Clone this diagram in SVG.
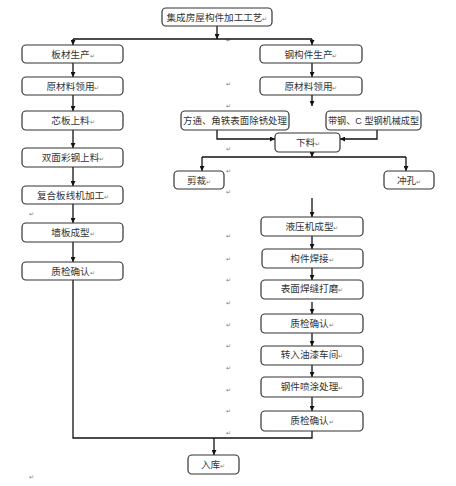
<svg xmlns="http://www.w3.org/2000/svg" width="456" height="486" viewBox="0 0 456 486">
<defs>
<marker id="ah" viewBox="0 0 10 10" refX="10" refY="5" markerWidth="5" markerHeight="5" orient="auto" markerUnits="userSpaceOnUse">
<path d="M0,0 L10,5 L0,10 z" fill="#111"/>
</marker>
<style>
.b{fill:#fff;stroke:#333;stroke-width:1.2}
.t{font-family:"Liberation Sans","Noto Sans CJK SC",sans-serif;font-size:9.6px;fill:#333;text-anchor:middle}
.m{font-size:6px;fill:#777}
.pm{font-family:"Liberation Sans","Noto Sans CJK SC",sans-serif;font-size:6px;fill:#777}
.c{fill:none;stroke:#111;stroke-width:1.3}
.a{marker-end:url(#ah)}
</style>
</defs>
<rect width="456" height="486" fill="#fff"/>
<g id="marks">
<text class="pm" x="226" y="42">↵</text>
<text class="pm" x="226" y="86">↵</text>
<text class="pm" x="226" y="108">↵</text>
<text class="pm" x="226" y="151">↵</text>
<text class="pm" x="226" y="173">↵</text>
<text class="pm" x="226" y="194">↵</text>
<text class="pm" x="226" y="238">↵</text>
<text class="pm" x="226" y="261">↵</text>
<text class="pm" x="226" y="282">↵</text>
<text class="pm" x="226" y="305">↵</text>
<text class="pm" x="226" y="327">↵</text>
<text class="pm" x="226" y="348">↵</text>
<text class="pm" x="226" y="370">↵</text>
<text class="pm" x="226" y="392">↵</text>
<text class="pm" x="226" y="413">↵</text>
<text class="pm" x="226" y="435">↵</text>
<text class="pm" x="29" y="64">↵</text>
<text class="pm" x="29" y="216">↵</text>
<text class="pm" x="29" y="479">↵</text>
</g>
<g id="connectors">
<line class="c a" x1="217" y1="26" x2="217" y2="39"/>
<line class="c" x1="73" y1="39" x2="312" y2="39"/>
<line class="c a" x1="73" y1="39" x2="73" y2="45"/>
<line class="c a" x1="312" y1="39" x2="312" y2="45"/>
<line class="c a" x1="73" y1="63" x2="73" y2="77"/>
<line class="c a" x1="73" y1="95" x2="73" y2="111"/>
<line class="c a" x1="73" y1="130" x2="73" y2="148"/>
<line class="c a" x1="73" y1="167" x2="73" y2="186"/>
<line class="c a" x1="73" y1="204" x2="73" y2="223"/>
<line class="c a" x1="73" y1="242" x2="73" y2="262"/>
<line class="c a" x1="312" y1="63" x2="312" y2="77"/>
<line class="c a" x1="312" y1="95" x2="312" y2="106"/>
<polyline class="c a" points="217,130 217,139 275,139"/>
<polyline class="c a" points="377,130 377,139 340,139"/>
<line class="c a" x1="312" y1="152" x2="312" y2="157"/>
<line class="c" x1="202" y1="157" x2="406" y2="157"/>
<line class="c a" x1="202" y1="157" x2="202" y2="171"/>
<line class="c a" x1="406" y1="157" x2="406" y2="171"/>
<line class="c a" x1="312" y1="198" x2="312" y2="217"/>
<line class="c a" x1="312" y1="236" x2="312" y2="249"/>
<line class="c a" x1="312" y1="268" x2="312" y2="280"/>
<line class="c a" x1="312" y1="302" x2="312" y2="314"/>
<line class="c a" x1="312" y1="333" x2="312" y2="346"/>
<line class="c a" x1="312" y1="365" x2="312" y2="377"/>
<line class="c a" x1="312" y1="397" x2="312" y2="411"/>
<polyline class="c" points="73,280 73,438 312,438 312,431"/>
<line class="c a" x1="214" y1="438" x2="214" y2="455"/>
</g>
<g id="n_title"><rect class="b" x="162" y="8" width="110" height="18" rx="4"/><text class="t" x="217" y="21">集成房屋构件加工工艺<tspan class="m">↵</tspan></text></g>
<g id="n_bancai"><rect class="b" x="22" y="45" width="101" height="18" rx="4"/><text class="t" x="73" y="58">板材生产<tspan class="m">↵</tspan></text></g>
<g id="n_yuancai1"><rect class="b" x="22" y="77" width="101" height="18" rx="4"/><text class="t" x="73" y="90">原材料领用<tspan class="m">↵</tspan></text></g>
<g id="n_xinban"><rect class="b" x="22" y="111" width="101" height="19" rx="4"/><text class="t" x="73" y="124">芯板上料<tspan class="m">↵</tspan></text></g>
<g id="n_shuangmian"><rect class="b" x="22" y="148" width="101" height="19" rx="4"/><text class="t" x="73" y="161">双面彩钢上料<tspan class="m">↵</tspan></text></g>
<g id="n_fuhe"><rect class="b" x="22" y="186" width="101" height="18" rx="4"/><text class="t" x="73" y="199">复合板线机加工<tspan class="m">↵</tspan></text></g>
<g id="n_qiangban"><rect class="b" x="22" y="223" width="101" height="19" rx="4"/><text class="t" x="73" y="236">墙板成型<tspan class="m">↵</tspan></text></g>
<g id="n_zhijian1"><rect class="b" x="22" y="262" width="101" height="18" rx="4"/><text class="t" x="73" y="275">质检确认<tspan class="m">↵</tspan></text></g>
<g id="n_gangjian"><rect class="b" x="260" y="45" width="102" height="18" rx="4"/><text class="t" x="311" y="58">钢构件生产<tspan class="m">↵</tspan></text></g>
<g id="n_yuancai2"><rect class="b" x="260" y="77" width="102" height="18" rx="4"/><text class="t" x="311" y="90">原材料领用<tspan class="m">↵</tspan></text></g>
<g id="n_fangtong"><rect class="b" x="181" y="111" width="108" height="19" rx="4"/><text class="t" x="235" y="124" textLength="104" lengthAdjust="spacingAndGlyphs">方通、角铁表面除锈处理</text></g>
<g id="n_daigang"><rect class="b" x="326" y="111" width="95" height="19" rx="4"/><text class="t" x="373.5" y="124" textLength="91" lengthAdjust="spacingAndGlyphs">带钢、C 型钢机械成型</text></g>
<g id="n_xialiao"><rect class="b" x="275" y="133" width="65" height="19" rx="4"/><text class="t" x="308" y="146">下料<tspan class="m">↵</tspan></text></g>
<g id="n_jiancai"><rect class="b" x="174" y="171" width="50" height="18" rx="4"/><text class="t" x="199" y="184">剪裁<tspan class="m">↵</tspan></text></g>
<g id="n_chongkong"><rect class="b" x="384" y="171" width="50" height="18" rx="4"/><text class="t" x="409" y="184">冲孔<tspan class="m">↵</tspan></text></g>
<g id="n_yeya"><rect class="b" x="261" y="217" width="102" height="19" rx="4"/><text class="t" x="312" y="230">液压机成型<tspan class="m">↵</tspan></text></g>
<g id="n_hanjie"><rect class="b" x="262" y="249" width="101" height="19" rx="4"/><text class="t" x="312" y="262">构件焊接<tspan class="m">↵</tspan></text></g>
<g id="n_damo"><rect class="b" x="261" y="280" width="102" height="19" rx="4"/><text class="t" x="312" y="292">表面焊缝打磨<tspan class="m">↵</tspan></text></g>
<g id="n_zhijian2"><rect class="b" x="261" y="314" width="102" height="19" rx="4"/><text class="t" x="312" y="327">质检确认<tspan class="m">↵</tspan></text></g>
<g id="n_youqi"><rect class="b" x="261" y="346" width="102" height="19" rx="4"/><text class="t" x="312" y="358">转入油漆车间<tspan class="m">↵</tspan></text></g>
<g id="n_penTu"><rect class="b" x="261" y="377" width="102" height="20" rx="4"/><text class="t" x="312" y="390">钢件喷涂处理<tspan class="m">↵</tspan></text></g>
<g id="n_zhijian3"><rect class="b" x="261" y="411" width="102" height="20" rx="4"/><text class="t" x="312" y="424">质检确认<tspan class="m">↵</tspan></text></g>
<g id="n_ruku"><rect class="b" x="188" y="455" width="51" height="19" rx="4"/><text class="t" x="213" y="468">入库<tspan class="m">↵</tspan></text></g>
</svg>
